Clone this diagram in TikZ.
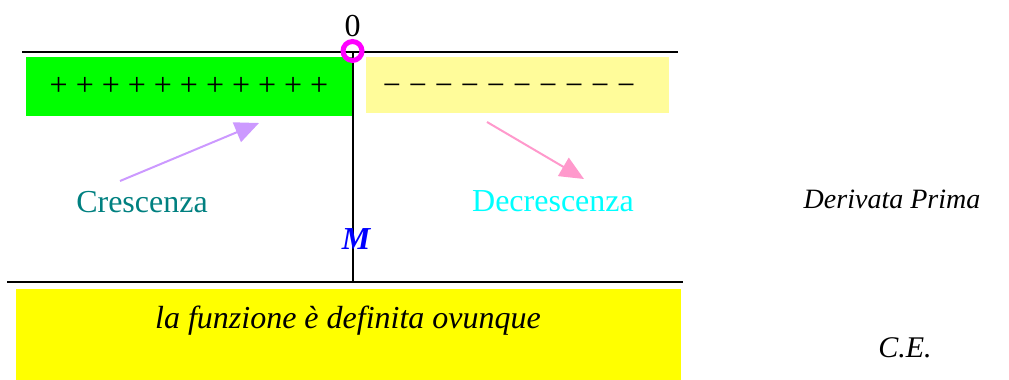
\documentclass[tikz,border=0pt]{standalone}
\usepackage{fontspec}
\setmainfont{Liberation Serif}
\usetikzlibrary{arrows.meta}
\definecolor{pgreen}{HTML}{00FF00}
\definecolor{pyellow}{HTML}{FFFC9A}
\definecolor{byellow}{HTML}{FFFF00}
\definecolor{parrow}{HTML}{CC99FF}
\definecolor{karrow}{HTML}{FF99CC}
\definecolor{tealc}{HTML}{008080}
\definecolor{cyanc}{HTML}{00FFFF}
\definecolor{magc}{HTML}{FF00FF}
\definecolor{bluec}{HTML}{0000FF}
\tikzset{
  big/.style={font=\fontsize{32}{38}\selectfont, inner sep=0pt, anchor=base},
  axis/.style={draw=black, line width=1.6pt},
  ptr/.style={line width=2pt, -{Triangle[length=24pt,width=21pt]}},
}
\begin{document}
\begin{tikzpicture}[x=1pt,y=-1pt]
\path[use as bounding box] (0,0) rectangle (1009,380);
% boxes
\fill[pgreen] (26,57) rectangle (353,116);
\fill[pyellow] (366,57) rectangle (669,113);
\fill[byellow] (16,289) rectangle (681,380);
% axes
\coordinate (tl) at (22,52);
\coordinate (tr) at (678,52);
\coordinate (vt) at (353,52);
\coordinate (vb) at (353,282);
\coordinate (bl) at (7,282);
\coordinate (br) at (683,282);
\draw[axis] (tl) -- (tr);
\draw[axis] (bl) -- (br);
\draw[axis] (vt) -- (vb);
\node[draw=magc, line width=5pt, circle, minimum size=19pt, inner sep=0pt] (zc) at (352.5,51) {};
\node[big] (zero) at (352.5,36) {0};
% signs
\node[big] (plus) at (189,95) {+ + + + + + + + + + +};
\node[big] (minus) at (509,95) {− − − − − − − − − −};
% labels
\node[big, text=tealc] (cres) at (142,212) {Crescenza};
\node[big, text=cyanc] (decr) at (553,211) {Decrescenza};
\node[big, font=\fontsize{28}{34}\selectfont\itshape] (der) at (892,208) {Derivata Prima};
\node[big, text=bluec, font=\fontsize{32}{38}\selectfont\bfseries\itshape] (mm) at (356,249) {M};
\node[big, font=\fontsize{32}{38}\selectfont\itshape] (ce) at (348,328) {la funzione è definita ovunque};
\node[big, font=\fontsize{30}{36}\selectfont\itshape] (cee) at (905,357) {C.E.};
% arrows
\coordinate (pa) at (120,181);
\coordinate (pb) at (259,123);
\coordinate (ka) at (487,122);
\coordinate (kb) at (584,179);
\draw[ptr, draw=parrow, fill=parrow] (pa) -- (pb);
\draw[ptr, draw=karrow, fill=karrow] (ka) -- (kb);
\end{tikzpicture}
\end{document}
